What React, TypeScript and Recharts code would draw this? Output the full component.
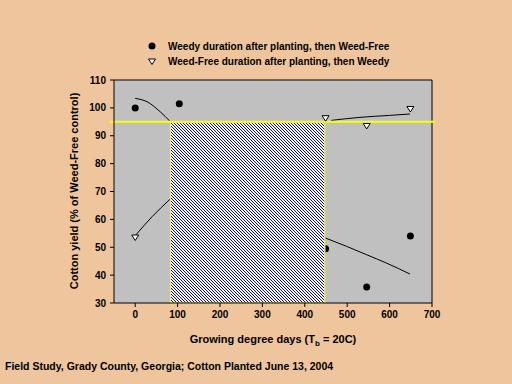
import { ComposedChart, XAxis, YAxis, Scatter, Line, ReferenceArea, ReferenceLine } from 'recharts';

// x ticks (GDD) and y ticks (% of weed-free control)
const xTicks = [0, 100, 200, 300, 400, 500, 600, 700];
const yTicks = [30, 40, 50, 60, 70, 80, 90, 100, 110];
const rightTicks = [30, 35, 40, 45, 50, 55, 60, 65, 70, 75, 80, 85, 90, 95, 100, 105, 110];

// observed means
const weedyPoints = [
  { x: 0, y: 100 },
  { x: 104, y: 101.5 },
  { x: 449, y: 49.5 },
  { x: 546, y: 35.7 },
  { x: 649, y: 54 },
];
const weedFreePoints = [
  { x: 0, y: 53.5 },
  { x: 449, y: 96.3 },
  { x: 546, y: 93.5 },
  { x: 649, y: 99.6 },
];

// fitted curves (middle part is hidden by the critical period box)
const weedyFit = [
  { x: 0, y: 103.4 },
  { x: 28, y: 102.2 },
  { x: 59, y: 98.6 },
  { x: 82, y: 95.2 },
  { x: 260, y: null },
  { x: 449, y: 53.3 },
  { x: 499, y: 50.3 },
  { x: 546, y: 47.3 },
  { x: 593, y: 44.3 },
  { x: 648, y: 40.4 },
];
const weedFreeFit = [
  { x: 2, y: 54.5 },
  { x: 40, y: 61 },
  { x: 82, y: 67.2 },
  { x: 260, y: null },
  { x: 462, y: 95.5 },
  { x: 530, y: 96.6 },
  { x: 600, y: 97.3 },
  { x: 648, y: 97.8 },
];

const criticalStart = 83;
const criticalEnd = 447;
const yieldGoal = 95;

const FONT = '"Liberation Sans", Arial, sans-serif';
const BG = '#EEC59C';

// a point sitting on the box's right edge is partly covered by it: show only its outer half
const Dot = (props: any) => {
  const { cx, cy, payload } = props;
  const r = 3.5;
  if (payload && payload.y < yieldGoal && payload.x > criticalStart && payload.x < criticalEnd + 5) {
    return <path d={`M${cx},${cy - r} A${r},${r} 0 0 1 ${cx},${cy + r} Z`} fill="#000" />;
  }
  return <circle cx={cx} cy={cy} r={r} fill="#000" />;
};
const Tri = (props: any) => (
  <polygon
    points={`${props.cx - 3.5},${props.cy - 2.5} ${props.cx + 3.5},${props.cy - 2.5} ${props.cx},${props.cy + 3}`}
    fill="#fff"
    stroke="#000"
    strokeWidth={1}
  />
);

const ShadowText = ({ x, y, children }: any) => (
  <g fontFamily={FONT} fontWeight="bold" fontSize={11}>
    <text x={x + 1} y={y + 1} fill="#2a4fd0">{children}</text>
    <text x={x} y={y} fill="#1a1a1a">{children}</text>
  </g>
);

const tickStyle = { fill: '#000', fontSize: 10, fontWeight: 'bold', fontFamily: FONT };

export default function App() {
  return (
    <div style={{ width: 512, height: 384, background: BG, position: 'relative' }}>
      <style>{`body{margin:0}`}</style>
      <ComposedChart width={512} height={384} margin={{ top: 80, right: 80, bottom: 51, left: 60 }}>
        <defs>
          <pattern id="hatch" patternUnits="userSpaceOnUse" width={3} height={3}>
            <rect width={3} height={3} fill="#fff" />
            <rect x={0} y={0} width={1} height={1} fill="#0000ff" />
            <rect x={1} y={1} width={1} height={1} fill="#0000ff" />
            <rect x={2} y={2} width={1} height={1} fill="#0000ff" />
          </pattern>
        </defs>
        <XAxis
          dataKey="x"
          type="number"
          domain={[-50, 700]}
          ticks={xTicks}
          tickSize={4}
          tickMargin={4}
          height={30}
          stroke="#000"
          tick={tickStyle}
          allowDataOverflow
        />
        <YAxis
          dataKey="y"
          type="number"
          domain={[30, 110]}
          ticks={yTicks}
          tickSize={4}
          tickMargin={4}
          width={54}
          stroke="#000"
          tick={tickStyle}
          allowDataOverflow
        />
        <YAxis
          yAxisId="right"
          orientation="right"
          dataKey="y"
          type="number"
          domain={[30, 110]}
          ticks={rightTicks}
          mirror
          tickSize={4}
          width={0}
          stroke="#000"
          tickFormatter={() => ''}
          allowDataOverflow
        />
        <ReferenceArea x1={-50} x2={700} y1={30} y2={110} fill="#C0C0C0" fillOpacity={1} stroke="none" />
        <ReferenceLine y={110} stroke="#000" strokeWidth={1} />
        <ReferenceLine x={700} stroke="#000" strokeWidth={1} />
        <Line data={weedyFit} dataKey="y" type="monotone" stroke="#000" strokeWidth={1} dot={false} connectNulls={false} isAnimationActive={false} />
        <Line yAxisId="right" data={weedFreeFit} dataKey="y" type="monotone" stroke="#000" strokeWidth={1} dot={false} connectNulls={false} isAnimationActive={false} />
        <ReferenceArea
          x1={criticalStart}
          x2={criticalEnd}
          y1={30}
          y2={yieldGoal}
          fill="url(#hatch)"
          fillOpacity={1}
          stroke="#ffff00"
          strokeWidth={1}
        />
        <ReferenceLine
          segment={[{ x: -60, y: yieldGoal }, { x: 707, y: yieldGoal }]}
          ifOverflow="visible"
          stroke="#ffff00"
          strokeWidth={2}
        />
        <Scatter data={weedyPoints} dataKey="y" shape={Dot} isAnimationActive={false} />
        <Scatter data={weedFreePoints} dataKey="y" shape={Tri} isAnimationActive={false} />

        {/* legend */}
        <circle cx={152} cy={46} r={3.5} fill="#000" />
        <polygon points="148.5,59 155.5,59 152,64.5" fill="#fff" stroke="#000" />
        <text x={168} y={50} fontFamily={FONT} fontWeight="bold" fontSize={10} fill="#000">
          Weedy duration after planting, then Weed-Free
        </text>
        <text x={168} y={65} fontFamily={FONT} fontWeight="bold" fontSize={10} fill="#000">
          Weed-Free duration after planting, then Weedy
        </text>

        {/* annotations */}
        <ShadowText x={126} y={273}>85 GDD</ShadowText>
        <ShadowText x={126} y={288}>~2 WAP</ShadowText>
        <ShadowText x={333} y={208}>454 GDD</ShadowText>
        <ShadowText x={333} y={223}>~8 WAP</ShadowText>

        {/* axis titles */}
        <text
          transform="translate(78,191) rotate(-90)"
          textAnchor="middle"
          fontFamily={FONT}
          fontWeight="bold"
          fontSize={11}
          fill="#000"
        >
          Cotton yield (% of Weed-Free control)
        </text>
        <text x={273} y={343} textAnchor="middle" fontFamily={FONT} fontWeight="bold" fontSize={11} fill="#000">
          Growing degree days (T<tspan fontSize={8} dy={3}>b</tspan>
          <tspan dy={-3}> = 20C)</tspan>
        </text>
        <text x={5} y={370} fontFamily={FONT} fontWeight="bold" fontSize={10.5} fill="#000">
          Field Study, Grady County, Georgia; Cotton Planted June 13, 2004
        </text>
      </ComposedChart>
    </div>
  );
}
